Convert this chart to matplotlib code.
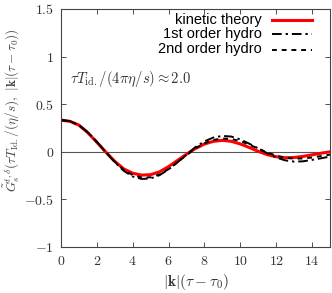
import numpy as np
import matplotlib.pyplot as plt

plt.rcParams["mathtext.fontset"] = "cm"
plt.rcParams["font.family"] = ["Liberation Sans", "DejaVu Sans"]

# |k|(tau - tau0)
t = np.arange(0, 15.01, 0.5)

kinetic = [0.333, 0.320, 0.280, 0.200, 0.100, -0.003, -0.100, -0.180, -0.225, -0.245,
           -0.240, -0.210, -0.155, -0.090, -0.025, 0.035, 0.082, 0.110, 0.120, 0.110,
           0.082, 0.045, 0.005, -0.030, -0.052, -0.062, -0.060, -0.048, -0.032, -0.015, 0.000]
hydro1 = [0.333, 0.322, 0.280, 0.205, 0.105, -0.005, -0.110, -0.200, -0.260, -0.285,
          -0.280, -0.245, -0.185, -0.110, -0.030, 0.050, 0.110, 0.150, 0.167, 0.160,
          0.130, 0.085, 0.035, -0.015, -0.060, -0.090, -0.103, -0.100, -0.085, -0.068, -0.050]
hydro2 = [0.333, 0.321, 0.280, 0.203, 0.103, -0.004, -0.105, -0.190, -0.245, -0.270,
          -0.268, -0.238, -0.182, -0.110, -0.035, 0.035, 0.090, 0.125, 0.140, 0.135,
          0.112, 0.075, 0.033, -0.007, -0.040, -0.062, -0.072, -0.070, -0.060, -0.045, -0.030]

xticks = [0, 2, 4, 6, 8, 10, 12, 14]
yticks = [-1, -0.5, 0, 0.5, 1, 1.5]
ytick_labels = ["$-1$", "$-0.5$", "$0$", "$0.5$", "$1$", "$1.5$"]

fig = plt.figure(figsize=(3.32, 2.93), dpi=100)
ax = fig.add_axes([61 / 332, 1 - 247 / 293, 269 / 332, 238 / 293])

ax.axhline(0, color="#555555", lw=0.8)
ax.plot(t, kinetic, color="red", lw=2.2)
ax.plot(t, hydro1, color="black", lw=1.4, dashes=(5, 2, 1.2, 2))
ax.plot(t, hydro2, color="black", lw=1.4, dashes=(2.5, 2.5))

ax.set_xlim(0, 15)
ax.set_ylim(-1, 1.5)
ax.set_xticks(xticks)
ax.set_xticklabels([f"${v}$" for v in xticks])
ax.set_yticks(yticks)
ax.set_yticklabels(ytick_labels)
ax.tick_params(direction="in", length=3.5, width=0.6, top=True, right=True,
               labelsize=10, colors="#333333", pad=5)
for s in ax.spines.values():
    s.set_linewidth(0.8)
    s.set_color("#444444")

ax.set_xlabel(r"$|\mathbf{k}|(\tau-\tau_0)$", fontsize=11, labelpad=3, color="#333333")
fig.text(12 / 332, 1 - 110 / 293,
         r"$\tilde{G}_s^{t,\delta}(\tau T_{\rm Id.}/(\eta/s),\ |\mathbf{k}|(\tau-\tau_0))$",
         rotation=90, ha="center", va="center", fontsize=9.5, color="#444444")

ax.text((70 - 61) / 269, (247 - 79) / 238, r"$\tau T_{\rm id.}/(4\pi\eta/s) \approx 2.0$",
        transform=ax.transAxes, fontsize=10.5, va="center", color="#333333")

# gnuplot style key: text right aligned, sample to the right
names = ["kinetic theory", "1st order hydro", "2nd order hydro"]
styles = [dict(color="red", lw=2.2), dict(color="black", lw=1.4, dashes=(5, 2, 1.2, 2)),
          dict(color="black", lw=1.4, dashes=(2.5, 2.5))]
rows_px = [20, 34.3, 49.5]
for name, st, ypx in zip(names, styles, rows_px):
    ya = (247 - ypx) / 238
    ax.text((262 - 61) / 269, ya, name, transform=ax.transAxes, ha="right", va="center",
            fontsize=10.5, color="black")
    ax.plot([(272 - 61) / 269, (312 - 61) / 269], [ya, ya], transform=ax.transAxes, **st)

fig.savefig("out.png", dpi=100)
